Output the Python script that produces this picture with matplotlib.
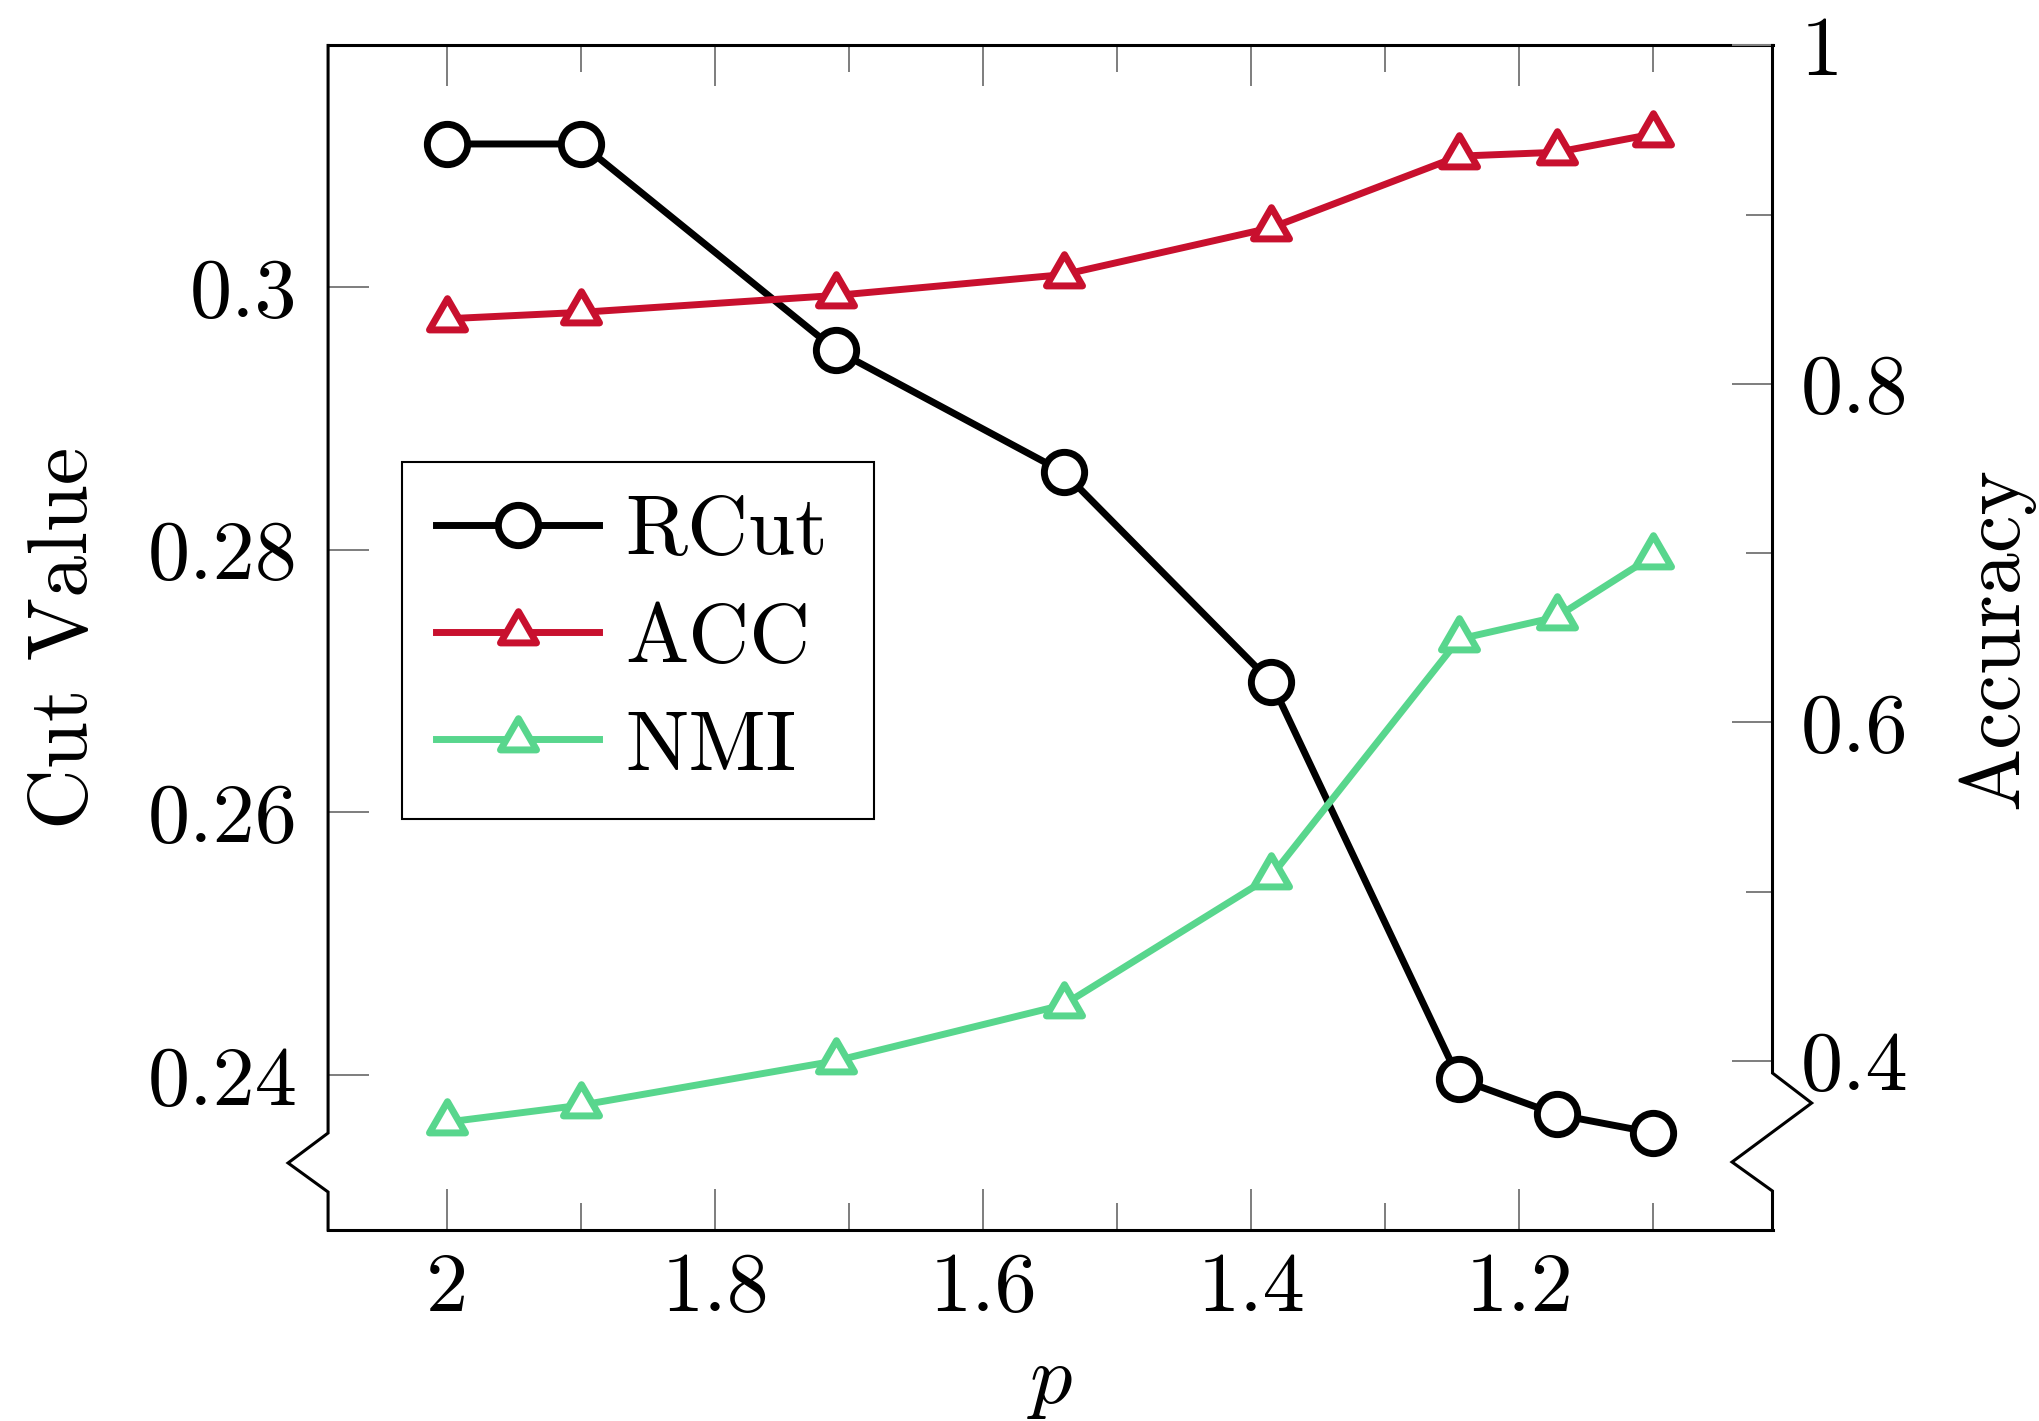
import matplotlib
matplotlib.use('Agg')
import matplotlib.pyplot as plt
from matplotlib.path import Path
from matplotlib.markers import MarkerStyle
from matplotlib.lines import Line2D
from matplotlib.ticker import FuncFormatter

# ---- data ----
p_values = [2.0, 1.9, 1.71, 1.54, 1.385, 1.245, 1.172, 1.1]
rcut = [0.3109, 0.3109, 0.2952, 0.2859, 0.2699, 0.2397, 0.2370, 0.2356]
acc = [0.8385, 0.8423, 0.8523, 0.8646, 0.8923, 0.9346, 0.9369, 0.9477]
nmi = [0.3638, 0.3738, 0.4000, 0.4331, 0.5092, 0.6492, 0.6623, 0.6985]
series_labels = ['RCut', 'ACC', 'NMI']
x_major = [2.0, 1.8, 1.6, 1.4, 1.2]
x_minor = [1.9, 1.7, 1.5, 1.3, 1.1]
left_ticks = [0.24, 0.26, 0.28, 0.30]
right_major = [0.4, 0.6, 0.8, 1.0]
right_minor = [0.5, 0.7, 0.9]

plt.rcParams['font.family'] = ['cmr10', 'DejaVu Serif']
plt.rcParams['mathtext.fontset'] = 'cm'
plt.rcParams['axes.formatter.use_mathtext'] = True

RED = '#C8102E'
GREEN = '#58D68D'
TICKC = '#808080'
FS = 30.4
LW = 2.5

fig = plt.figure(figsize=(10.195, 7.105), dpi=200)
ax = fig.add_axes([0.1609, 0.1344, 0.7084, 0.8336])
ax2 = ax.twinx()

tri_path = Path([(0, 1), (-0.866, -0.5), (0.866, -0.5), (0, 1)],
                [Path.MOVETO, Path.LINETO, Path.LINETO, Path.CLOSEPOLY])
tri = MarkerStyle(tri_path, joinstyle='miter')

l1, = ax.plot(p_values, rcut, color='black', lw=LW, marker='o', ms=14.5,
              mfc='white', mec='black', mew=LW)
l2, = ax2.plot(p_values, acc, color=RED, lw=LW, marker=tri, ms=15,
               mfc='white', mec=RED, mew=LW)
l3, = ax2.plot(p_values, nmi, color=GREEN, lw=LW, marker=tri, ms=15,
               mfc='white', mec=GREEN, mew=LW)

ax.set_xlim(2.089, 1.011)
ax.set_ylim(0.2282, 0.3184)
ax2.set_ylim(0.3, 1.0)

fmt = FuncFormatter(lambda v, pos: f'{v:g}')
ax.set_xticks(x_major)
ax.set_xticks(x_minor, minor=True)
ax.set_yticks(left_ticks)
ax.yaxis.set_major_formatter(fmt)
ax.xaxis.set_major_formatter(fmt)
ax2.set_yticks(right_major)
ax2.set_yticks(right_minor, minor=True)
ax2.yaxis.set_major_formatter(fmt)

ax.tick_params(axis='x', which='both', direction='in', top=True, bottom=True,
               color=TICKC, width=0.72, labelsize=FS, pad=8)
ax.tick_params(axis='x', which='major', length=14.8)
ax.tick_params(axis='x', which='minor', length=9.7)
ax.tick_params(axis='y', which='both', direction='in', left=True, right=False,
               color=TICKC, width=0.72, labelsize=FS, pad=11, length=14.8)
ax2.tick_params(axis='y', which='both', direction='in', right=True, left=False,
                color=TICKC, width=0.72, labelsize=FS, pad=10)
ax2.tick_params(axis='y', which='major', length=14.8)
ax2.tick_params(axis='y', which='minor', length=9.7)

for s in ['left', 'right']:
    ax.spines[s].set_visible(False)
for s in ax2.spines.values():
    s.set_visible(False)
for s in ['top', 'bottom']:
    ax.spines[s].set_linewidth(1.1)

# axis lines with discontinuity (crunch) marks
ax2.add_line(Line2D([0, 0, -0.0277, 0, 0], [1, 0.0819, 0.0566, 0.0321, 0],
                    transform=ax2.transAxes, clip_on=False, color='black',
                    lw=1.1, solid_joinstyle='miter', solid_capstyle='projecting'))
ax2.add_line(Line2D([1, 1, 1.0271, 0.9720, 1, 1], [1, 0.1325, 0.1072, 0.0574, 0.0329, 0],
                    transform=ax2.transAxes, clip_on=False, color='black',
                    lw=1.1, solid_joinstyle='miter', solid_capstyle='projecting'))

ax.set_xlabel(r'$p$', fontsize=FS)
ax.xaxis.set_label_coords(0.5, -0.130)
ax.xaxis.label.set_va('center')
ax.set_ylabel('Cut Value', fontsize=FS)
ax.yaxis.set_label_coords(-0.182, 0.5)
ax.yaxis.label.set_va('center')
ax2.set_ylabel('Accuracy', fontsize=FS, rotation=90)
ax2.yaxis.set_label_coords(1.1547, 0.5)
ax2.yaxis.label.set_va('center')

leg = ax2.legend([l1, l2, l3], series_labels, loc='upper left',
                 bbox_to_anchor=(0.1971, 0.4245, 0.2315, 0.2507),
                 bbox_transform=fig.transFigure, mode='expand',
                 borderaxespad=0, frameon=True, fancybox=False, edgecolor='black',
                 framealpha=1, fontsize=FS, handlelength=1.94, handletextpad=0.31,
                 borderpad=0.4, labelspacing=0.38, numpoints=1)
leg.get_frame().set_linewidth(0.75)

fig.savefig('out.png', dpi=200)
